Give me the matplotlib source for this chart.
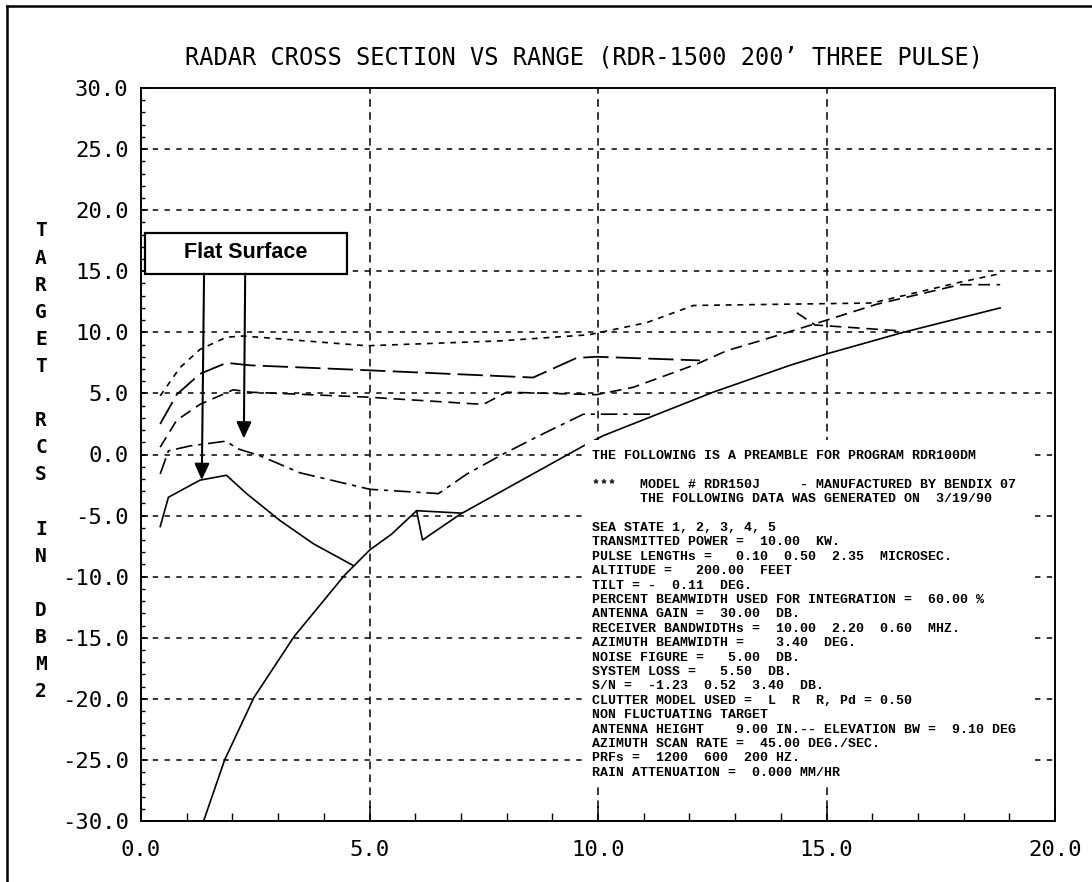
import matplotlib
matplotlib.use("Agg")
import matplotlib.pyplot as plt
from matplotlib.patches import Rectangle
from matplotlib.lines import Line2D
from matplotlib.ticker import MultipleLocator, FuncFormatter

# --- data (range in NM, RCS in dBm2) ---
solid_a_x = [0.42, 0.60, 1.29, 1.87, 2.31, 3.04, 3.77, 4.65]
solid_a_y = [-5.9, -3.5, -2.1, -1.7, -3.2, -5.4, -7.3, -9.1]

solid_b_x = [1.37, 1.83, 2.47, 3.35, 4.45, 5.01, 5.49, 6.03, 6.16, 6.98,
             9.68, 10.12, 12.52, 14.2, 14.97, 16.68, 18.8]
solid_b_y = [-30.0, -25.0, -19.9, -14.9, -9.9, -7.8, -6.5, -4.6, -7.0, -4.9,
             0.7, 1.55, 5.1, 7.3, 8.2, 10.0, 12.0]

solid_seg_x = [6.03, 7.02]
solid_seg_y = [-4.6, -4.8]

dashdot_x = [0.42, 0.60, 1.07, 1.87, 2.09, 2.60, 3.48, 5.01, 6.51, 7.13,
             7.93, 8.80, 9.68, 11.2]
dashdot_y = [-1.6, 0.3, 0.7, 1.1, 0.5, -0.1, -1.5, -2.85, -3.2, -1.6,
             0.05, 1.7, 3.3, 3.3]

short_x = [0.42, 0.85, 1.29, 1.87, 2.24, 4.94, 7.86, 9.8, 11.07, 12.09,
           16.0, 17.92, 18.8]
short_y = [4.8, 7.1, 8.6, 9.6, 9.7, 8.9, 9.3, 9.8, 10.8, 12.2,
           12.4, 14.1, 14.8]

long_x = [0.42, 0.78, 1.29, 1.87, 2.39, 4.94, 8.58, 9.53, 9.97, 12.23]
long_y = [2.5, 4.9, 6.6, 7.5, 7.3, 6.9, 6.3, 7.9, 8.0, 7.7]

mid_x = [0.42, 0.78, 1.29, 2.02, 2.39, 4.94, 7.49, 8.0, 9.97, 10.77,
         11.43, 12.16, 12.82, 13.54, 14.75, 16.1, 17.92, 18.8]
mid_y = [0.6, 2.8, 4.1, 5.3, 5.1, 4.7, 4.1, 5.1, 4.9, 5.5,
         6.4, 7.4, 8.5, 9.3, 10.7, 12.3, 13.9, 13.9]

branch_x = [14.35, 14.75, 16.68]
branch_y = [11.6, 10.6, 10.1]

x_ticks = [0, 5, 10, 15, 20]
y_ticks = [-30, -25, -20, -15, -10, -5, 0, 5, 10, 15, 20, 25, 30]

title = "RADAR CROSS SECTION VS RANGE (RDR-1500 200\u2019 THREE PULSE)"
ylabel_rows = ["T", "A", "R", "G", "E", "T", "", "R", "C", "S", "",
               "I", "N", "", "D", "B", "M", "2"]
preamble = [
    "THE FOLLOWING IS A PREAMBLE FOR PROGRAM RDR100DM",
    "",
    "***   MODEL # RDR150J     - MANUFACTURED BY BENDIX 07",
    "      THE FOLLOWING DATA WAS GENERATED ON  3/19/90",
    "",
    "SEA STATE 1, 2, 3, 4, 5",
    "TRANSMITTED POWER =  10.00  KW.",
    "PULSE LENGTHs =   0.10  0.50  2.35  MICROSEC.",
    "ALTITUDE =   200.00  FEET",
    "TILT = -  0.11  DEG.",
    "PERCENT BEAMWIDTH USED FOR INTEGRATION =  60.00 %",
    "ANTENNA GAIN =  30.00  DB.",
    "RECEIVER BANDWIDTHs =  10.00  2.20  0.60  MHZ.",
    "AZIMUTH BEAMWIDTH =    3.40  DEG.",
    "NOISE FIGURE =   5.00  DB.",
    "SYSTEM LOSS =   5.50  DB.",
    "S/N =  -1.23  0.52  3.40  DB.",
    "CLUTTER MODEL USED =  L  R  R, Pd = 0.50",
    "NON FLUCTUATING TARGET",
    "ANTENNA HEIGHT    9.00 IN.-- ELEVATION BW =  9.10 DEG",
    "AZIMUTH SCAN RATE =  45.00 DEG./SEC.",
    "PRFs =  1200  600  200 HZ.",
    "RAIN ATTENUATION =  0.000 MM/HR",
]

plt.rcParams["font.family"] = ["DejaVu Sans Mono", "DejaVu Sans"]

W, H = 1092, 882
fig = plt.figure(figsize=(W / 100, H / 100), dpi=100)
fig.patch.set_facecolor("white")

# axes box in pixels: left 141, right 1055, top 88, bottom 821
ax = fig.add_axes([141 / W, (H - 821) / H, 914 / W, 733 / H])
ax.set_xlim(0, 20)
ax.set_ylim(-30, 30)

# grid
for yv in y_ticks[1:-1]:
    ax.axhline(yv, color="black", lw=1.1, dashes=(3.5, 4.2), zorder=1)
for xv in x_ticks[1:-1]:
    ax.axvline(xv, color="black", lw=1.1, dashes=(5, 3.5), zorder=1)

# curves
ax.plot(solid_a_x, solid_a_y, color="black", lw=1.2, zorder=3)
ax.plot(solid_b_x, solid_b_y, color="black", lw=1.2, zorder=3)
ax.plot(solid_seg_x, solid_seg_y, color="black", lw=1.2, zorder=3)
ax.plot(dashdot_x, dashdot_y, color="black", lw=1.2, dashes=(10, 3.5, 2.5, 3.5), zorder=3)
ax.plot(short_x, short_y, color="black", lw=1.2, dashes=(3.5, 3.5), zorder=3)
ax.plot(long_x, long_y, color="black", lw=1.3, dashes=(14, 4), zorder=3)
ax.plot(mid_x, mid_y, color="black", lw=1.2, dashes=(7, 4), zorder=3)
ax.plot(branch_x, branch_y, color="black", lw=1.2, dashes=(7, 4), zorder=3)

# white panel that carries the program preamble
ax.add_patch(Rectangle((9.72, -26.8), 19.5 - 9.72, 1.2 + 26.8,
                       facecolor="white", edgecolor="none", zorder=4))

# ticks
ax.xaxis.set_major_locator(MultipleLocator(5))
ax.xaxis.set_minor_locator(MultipleLocator(1))
ax.yaxis.set_major_locator(MultipleLocator(5))
ax.yaxis.set_minor_locator(MultipleLocator(1))
fmt = FuncFormatter(lambda v, p: f"{v:.1f}")
ax.xaxis.set_major_formatter(fmt)
ax.yaxis.set_major_formatter(fmt)
ax.tick_params(axis="both", which="both", direction="in", colors="black",
               top=False, right=False, labelsize=16)
ax.tick_params(axis="x", which="major", length=11, width=1.1, pad=14)
ax.tick_params(axis="x", which="minor", length=5.5, width=1.0)
ax.tick_params(axis="y", which="major", length=5, width=1.1, pad=9)
ax.tick_params(axis="y", which="minor", length=3, width=1.0)
for s in ax.spines.values():
    s.set_linewidth(1.4)
    s.set_color("black")
    s.set_zorder(6)

# annotation box and arrows
ax.add_patch(Rectangle((0.09, 14.8), 4.41, 3.35, facecolor="white",
                       edgecolor="black", lw=1.6, zorder=7))
ax.text(2.28, 16.5, "Flat Surface", ha="center", va="center", fontsize=15.5,
        fontweight="bold", family="Liberation Sans", zorder=8)
for tail, tip in [((1.38, 14.8), (1.33, -2.1)), ((2.28, 14.8), (2.25, 1.3))]:
    ax.annotate("", xy=tip, xytext=tail, zorder=8,
                arrowprops=dict(arrowstyle="-|>,head_length=1.0,head_width=0.45",
                                color="black", lw=1.5, shrinkA=0, shrinkB=0))

# title, stacked y label, preamble text
fig.text(584 / W, 1 - 57 / H, title, ha="center", va="center", fontsize=17)
for i, ch in enumerate(ylabel_rows):
    if ch:
        fig.text(41 / W, 1 - (231 + 27.1 * i) / H, ch, ha="center",
                 va="center", fontsize=14, fontweight="bold")
for i, line in enumerate(preamble):
    if line:
        fig.text(592 / W, 1 - (456 + 14.4 * i) / H, line, ha="left",
                 va="center", fontsize=9.5, fontweight="bold",
                 family="Liberation Mono", zorder=9)

# outer page frame (left and top edges)
fig.add_artist(Line2D([7 / W, 7 / W], [0, 1 - 6 / H], transform=fig.transFigure,
                      color="black", lw=1.8))
fig.add_artist(Line2D([7 / W, 1], [1 - 6 / H, 1 - 6 / H], transform=fig.transFigure,
                      color="black", lw=1.8))

fig.savefig("out.png", dpi=100)
